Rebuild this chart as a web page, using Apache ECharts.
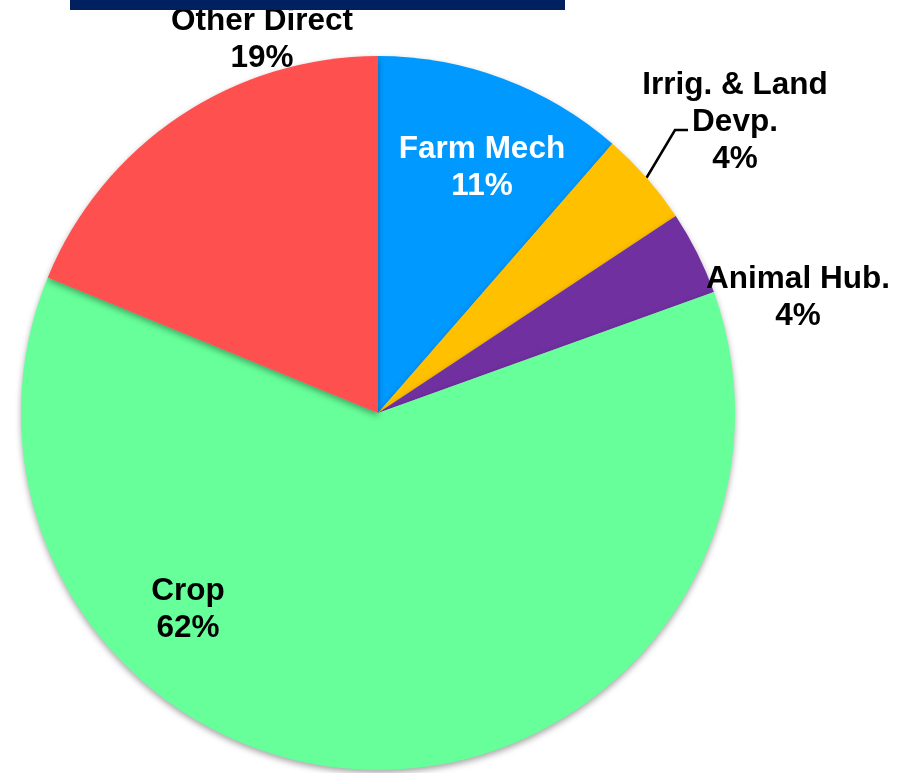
<!DOCTYPE html>
<html>
<head>
<meta charset="utf-8">
<script src="https://cdn.jsdelivr.net/npm/echarts@6/dist/echarts.min.js"></script>
<style>
html,body{margin:0;padding:0;background:#fff;}
#chart{width:913px;height:773px;}
</style>
</head>
<body>
<div id="chart"></div>
<script>
// Data
const categories = ['Farm Mech', 'Irrig. & Land\nDevp.', 'Animal Hub.', 'Crop', 'Other Direct'];
const values = [11.4, 4.3, 3.8, 61.7, 18.8];
const colors = ['#0099FF', '#FFC000', '#7030A0', '#66FF99', '#FF5050'];
const labelColors = ['#FFFFFF', '#000000', '#000000', '#000000', '#000000'];

// Label placement (label block centers)
const labelPos = [[482, 168], [735, 122], [798, 298], [188, 610], [262, 40]];

const chart = echarts.init(document.getElementById('chart'), null, {renderer: 'canvas'});

const option = {
  animation: false,
  graphic: [{
    type: 'rect',
    shape: {x: 70, y: 0, width: 495, height: 10},
    style: {fill: '#002060'},
    z: 10
  }],
  series: [{
    type: 'pie',
    center: [378, 413],
    radius: 357,
    startAngle: 90,
    clockwise: true,
    percentPrecision: 0,
    avoidLabelOverlap: false,
    itemStyle: {
      shadowBlur: 6,
      shadowOffsetY: 3,
      shadowOffsetX: 0,
      shadowColor: 'rgba(0,0,0,0.35)'
    },
    label: {
      show: true,
      position: 'outside',
      formatter: '{b}\n{d}%',
      fontFamily: 'Liberation Sans, Arial, sans-serif',
      fontWeight: 'bold',
      fontSize: 31.5,
      lineHeight: 37,
      align: 'center'
    },
    labelLine: {show: false},
    labelLayout: function (params) {
      const i = params.dataIndex;
      const p = labelPos[i];
      const res = {
        x: p[0],
        y: p[1],
        align: 'center',
        verticalAlign: 'middle'
      };
      if (i === 1 && params.labelLinePoints) {
        const start = params.labelLinePoints[0];
        res.labelLinePoints = [start, [675, 130], [688, 130]];
      }
      return res;
    },
    data: categories.map((name, i) => ({
      name: name,
      value: values[i],
      itemStyle: {color: colors[i]},
      label: {color: labelColors[i]},
      labelLine: i === 1 ? {show: true, length: 20, length2: 10, lineStyle: {color: '#000', width: 2.5}} : {show: false}
    }))
  }]
};
chart.setOption(option);
</script>
</body>
</html>
